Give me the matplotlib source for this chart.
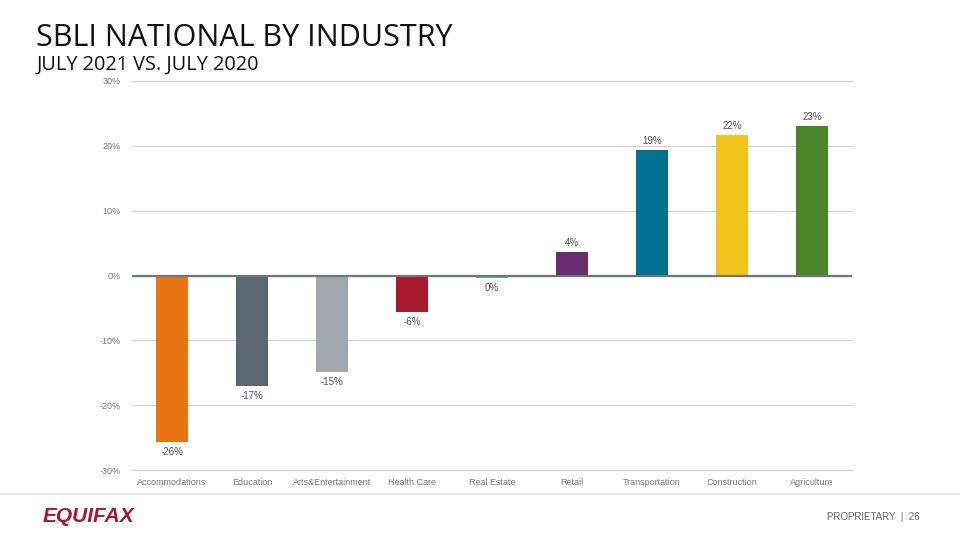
import matplotlib.pyplot as plt
import numpy as np

# Data
industries = ["Accommodations", "Education", "Arts&Entertainment", "Health Care",
              "Real Estate", "Retail", "Transportation", "Construction", "Agriculture"]
change_pct = [-25.7, -17.0, -14.9, -5.6, -0.4, 3.7, 19.3, 21.7, 23.1]
value_labels = ["-26%", "-17%", "-15%", "-6%", "0%", "4%", "19%", "22%", "23%"]
bar_colors = ["#E87511", "#5B6770", "#A2A9AD", "#A6192E", "#3FB6E3",
              "#6A2C70", "#00728F", "#F2C31B", "#4A872B"]
y_ticks = [-30, -20, -10, 0, 10, 20, 30]

plt.rcParams['font.family'] = ['Open Sans', 'DejaVu Sans']
SANS = ['Liberation Sans', 'DejaVu Sans']

fig = plt.figure(figsize=(9.6, 5.4), dpi=100)
ax = fig.add_axes([0.1375, 0.1296, 0.75, 0.7204])

x = np.arange(len(industries))
ax.bar(x, change_pct, width=0.4, color=bar_colors, zorder=3)

for xi, v, lab in zip(x, change_pct, value_labels):
    if v >= 0:
        ax.text(xi, v + 0.6, lab, ha='center', va='bottom', fontsize=7, color='#505050',
                family=SANS)
    else:
        ax.text(xi, v - 0.8, lab, ha='center', va='top', fontsize=7, color='#505050',
                family=SANS)

ax.set_xlim(-0.5, len(industries) - 0.5)
ax.set_ylim(-30, 30)
ax.set_yticks(y_ticks)
ax.set_yticklabels([f"{t}%" for t in y_ticks])
ax.set_xticks(x)
ax.set_xticklabels(industries)
ax.tick_params(axis='both', length=0, labelsize=6.5, labelcolor='#777777', pad=8)
for lbl in ax.get_xticklabels() + ax.get_yticklabels():
    lbl.set_family(SANS)
ax.tick_params(axis='x', pad=6)

ax.grid(axis='y', color='#D5D8DA', lw=1.0, zorder=0)
for gl in ax.get_ygridlines():
    gl.set_clip_on(False)
ax.axhline(0, color='#70777C', lw=1.6, zorder=4)
for s in ax.spines.values():
    s.set_visible(False)

# Titles
fig.text(0.038, 0.930, "SBLI NATIONAL BY INDUSTRY", fontsize=22, color='#111111',
         ha='left', va='center')
fig.text(0.038, 0.880, "JULY 2021 VS. JULY 2020", fontsize=14.3, color='#111111',
         ha='left', va='center')

# Footer
fig.add_artist(plt.Line2D([0, 1], [1 - 494 / 540, 1 - 494 / 540], color='#E3E3E3', lw=1.2))
fig.text(0.044, 0.043, "EQUIFAX", fontsize=15, color='#A6192E', fontweight='heavy',
         style='italic', ha='left', va='center', family=SANS)
fig.text(0.958, 0.043, "PROPRIETARY  |  26", fontsize=7, color='#666666',
         ha='right', va='center', family=SANS)

fig.savefig("out.png", dpi=100)
